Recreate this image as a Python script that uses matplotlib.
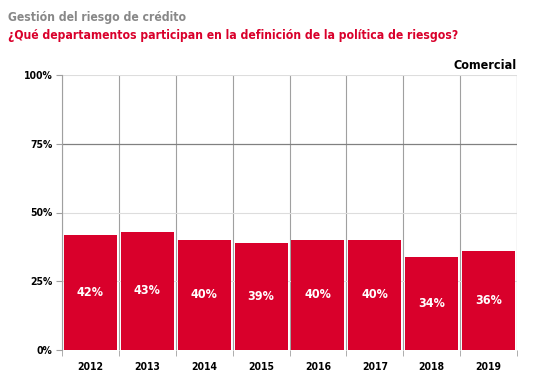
import matplotlib
matplotlib.use('Agg')
import matplotlib.pyplot as plt
import numpy as np

years = ['2012', '2013', '2014', '2015', '2016', '2017', '2018', '2019']
values = [42, 43, 40, 39, 40, 40, 34, 36]
yticks = [0, 25, 50, 75, 100]
ytick_labels = ['0%', '25%', '50%', '75%', '100%']

plt.rcParams['font.family'] = ['DejaVu Sans']
plt.rcParams['font.stretch'] = 'condensed'

red = '#d9002b'
fig = plt.figure(figsize=(5.4, 3.89), dpi=100)
ax = fig.add_axes([62 / 540, 1 - 350 / 389, (517 - 62) / 540, (350 - 75) / 389])

x = np.arange(len(years))
bars = ax.bar(x, values, width=0.93, color=red, zorder=3)
for xi, v in zip(x, values):
    ax.text(xi, v / 2, f'{v}%', ha='center', va='center', color='white',
            fontsize=9, fontweight='bold', zorder=4)

ax.set_xlim(-0.5, len(years) - 0.5)
ax.set_ylim(0, 100)

# grid
for b in np.arange(-0.5, len(years), 1):
    ax.axvline(b, color='#a0a0a0', lw=0.8, zorder=1)
ax.axvline(len(years) - 0.5, color='#d0d0d0', lw=0.8, zorder=1)
ax.axhline(100, color='#dddddd', lw=1.5, zorder=1)
ax.axhline(75, color='#808080', lw=0.9, zorder=1)
ax.axhline(50, color='#dddddd', lw=0.8, zorder=1)
ax.axhline(25, color='#dddddd', lw=0.8, zorder=1)

for s in ax.spines.values():
    s.set_visible(False)
ax.spines['left'].set_visible(True)
ax.spines['left'].set_color('#a0a0a0')

ax.set_yticks(yticks)
ax.set_yticklabels(ytick_labels, fontsize=7.5, fontweight='bold')
ax.set_xticks(x)
ax.set_xticklabels(years, fontsize=7.5, fontweight='bold')
ax.set_xticks(np.arange(-0.5, len(years), 1), minor=True)
ax.tick_params(axis='x', which='major', length=0, pad=9)
ax.tick_params(axis='x', which='minor', length=4, color='#a0a0a0')
ax.tick_params(axis='y', length=4, color='#a0a0a0', pad=3)

ax.text(1.0, 1.01, 'Comercial', transform=ax.transAxes, ha='right', va='bottom',
        fontsize=9, fontweight='bold')

fig.text(8 / 540, 1 - 17 / 389, 'Gestión del riesgo de crédito', color='#888888',
         fontsize=8.7, fontweight='bold', va='center')
fig.text(8 / 540, 1 - 36 / 389, '¿Qué departamentos participan en la definición de la política de riesgos?',
         color=red, fontsize=8.7, fontweight='bold', va='center')

fig.savefig('out.png', dpi=100)
